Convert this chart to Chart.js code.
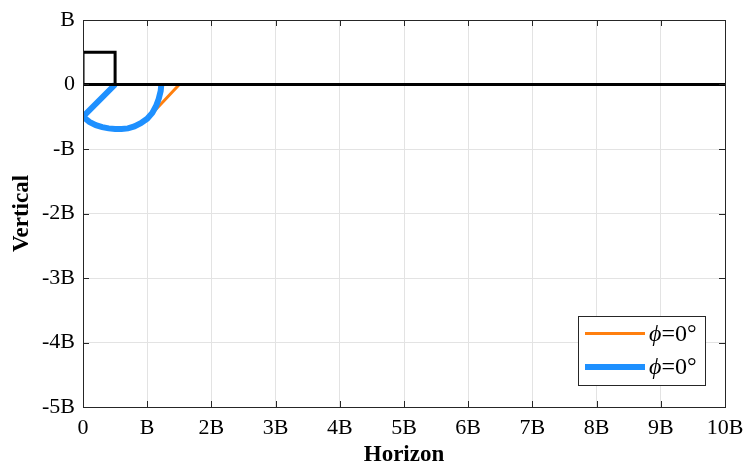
<!DOCTYPE html>
<html>
<head>
<meta charset="utf-8">
<script src="https://cdn.jsdelivr.net/npm/chart.js@4.4.1/dist/chart.umd.min.js"></script>
<style>
html,body{margin:0;padding:0;background:#fff;}
#wrap{width:747px;height:467px;position:relative;}
</style>
</head>
<body>
<div id="wrap"><canvas id="c" width="747" height="467"></canvas></div>
<script>
// ---- data ----
const xTickLabels = ["0","B","2B","3B","4B","5B","6B","7B","8B","9B","10B"];
const yTickLabels = {"1":"B","0":"0","-1":"-B","-2":"-2B","-3":"-3B","-4":"-4B","-5":"-5B"};
const seriesLabels = ["\u03D5=0\u00B0","\u03D5=0\u00B0"];

const orangeX = [0.5, 0, 0.1, 0.2, 0.3, 0.4, 0.5, 0.6, 0.7, 0.8, 0.9, 1.0, 1.5];
const orangeY = [0, -0.5, -0.58, -0.63, -0.66, -0.68, -0.69, -0.69, -0.68, -0.65, -0.6, -0.53, 0];

const blueX = [0.5, 0, 0.1, 0.2, 0.3, 0.4, 0.5, 0.6, 0.7, 0.8, 0.9, 1.0, 1.08, 1.14, 1.18, 1.21, 1.22];
const blueY = [0, -0.5, -0.58, -0.63, -0.66, -0.68, -0.69, -0.69, -0.68, -0.65, -0.6, -0.53, -0.44, -0.33, -0.22, -0.1, 0];

const boxX = [10, 0, 0, 0.5, 0.5];
const boxY = [0, 0, 0.5, 0.5, 0];

const pts = (xs, ys) => xs.map((x, i) => ({x, y: ys[i]}));

const serif = "'Liberation Serif', serif";
const axisColor = '#262626';

const frame = {
  id: 'frame',
  afterDatasetsDraw(chart) {
    const {ctx, chartArea: a, scales: {x, y}} = chart;
    ctx.save();
    ctx.strokeStyle = axisColor;
    ctx.lineWidth = 1;
    const tl = 6;
    ctx.beginPath();
    for (let v = 0; v <= 10; v++) {
      const px = Math.round(x.getPixelForValue(v)) + 0.5;
      ctx.moveTo(px, a.bottom); ctx.lineTo(px, a.bottom - tl);
      ctx.moveTo(px, a.top); ctx.lineTo(px, a.top + tl);
    }
    for (let v = -5; v <= 1; v++) {
      const py = Math.round(y.getPixelForValue(v)) + 0.5;
      ctx.moveTo(a.left, py); ctx.lineTo(a.left + tl, py);
      ctx.moveTo(a.right, py); ctx.lineTo(a.right - tl, py);
    }
    ctx.stroke();
    ctx.strokeRect(Math.round(a.left) + 0.5, Math.round(a.top) + 0.5, Math.round(a.right - a.left), Math.round(a.bottom - a.top));

    // legend box
    const lx = 578, ly = 316, lw = 127, lh = 69;
    ctx.fillStyle = '#fff';
    ctx.fillRect(lx, ly, lw, lh);
    ctx.strokeRect(lx + 0.5, ly + 0.5, lw, lh);
    const items = [chart.data.datasets[0], chart.data.datasets[1]];
    items.forEach((ds, i) => {
      const cy = ly + 17.5 + i * 33.5;
      ctx.strokeStyle = ds.borderColor;
      ctx.lineWidth = ds.borderWidth;
      ctx.beginPath();
      ctx.moveTo(lx + 7, cy); ctx.lineTo(lx + 67, cy);
      ctx.stroke();
      ctx.fillStyle = '#000';
      ctx.textBaseline = 'middle';
      ctx.font = 'italic 24px ' + serif;
      const txt = ds.label;
      ctx.fillText(txt[0], lx + 71, cy + 1);
      const w = ctx.measureText(txt[0]).width;
      ctx.font = '24px ' + serif;
      ctx.fillText(txt.slice(1), lx + 71 + w, cy + 1);
    });
    ctx.restore();
  }
};

function build() {
new Chart(document.getElementById('c'), {
  type: 'scatter',
  data: {
    datasets: [
      {label: seriesLabels[0], data: pts(orangeX, orangeY), showLine: true, borderColor: '#FF7F0E', backgroundColor: '#FF7F0E', borderWidth: 3, pointRadius: 0, order: 3},
      {label: seriesLabels[1], data: pts(blueX, blueY), showLine: true, borderColor: '#1E90FF', backgroundColor: '#1E90FF', borderWidth: 6, pointRadius: 0, order: 2},
      {label: 'box', data: pts(boxX, boxY), showLine: true, borderColor: '#000', borderWidth: 3, pointRadius: 0, order: 1}
    ]
  },
  options: {
    responsive: false,
    animation: false,
    events: [],
    layout: {padding: {left: 0, top: 20, right: 22, bottom: 0}},
    plugins: {legend: {display: false}, tooltip: {enabled: false}},
    scales: {
      x: {
        type: 'linear', min: 0, max: 10,
        afterFit: s => { s.height = 60; s.paddingLeft = 0; s.paddingRight = 0; },
        ticks: {stepSize: 1, autoSkip: false, maxRotation: 0, padding: 8, color: '#000',
          font: {family: serif, size: 22},
          callback: v => xTickLabels[Math.round(v)]},
        grid: {color: '#e3e3e3', drawTicks: false, lineWidth: 1},
        border: {display: false},
        title: {display: true, text: 'Horizon', color: '#000', padding: {top: 0, bottom: 0},
          font: {family: serif, size: 23, weight: 'bold', lineHeight: 1}}
      },
      y: {
        type: 'linear', min: -5, max: 1,
        afterFit: s => { s.width = 83; s.paddingTop = 0; s.paddingBottom = 0; },
        ticks: {stepSize: 1, autoSkip: false, padding: 8, color: '#000',
          font: {family: serif, size: 22},
          callback: v => yTickLabels[String(Math.round(v))]},
        grid: {color: '#e3e3e3', drawTicks: false, lineWidth: 1},
        border: {display: false},
        title: {display: true, text: 'Vertical', color: '#000', padding: {top: 11, bottom: 0},
          font: {family: serif, size: 23, weight: 'bold', lineHeight: 1}}
      }
    }
  },
  plugins: [frame]
});
}

if (document.fonts && document.fonts.load) {
  Promise.all([
    document.fonts.load("22px 'Liberation Serif'"),
    document.fonts.load("bold 23px 'Liberation Serif'"),
    document.fonts.load("italic 24px 'Liberation Serif'")
  ]).then(build, build);
} else { build(); }
</script>
</body>
</html>
